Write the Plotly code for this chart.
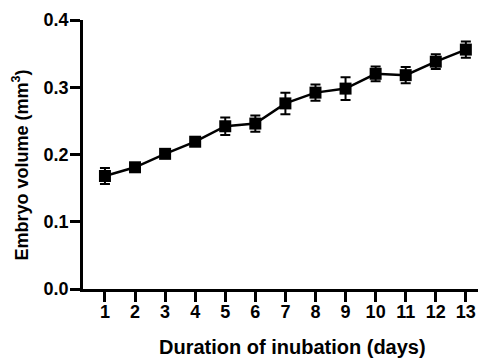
import plotly.graph_objects as go

days = [1, 2, 3, 4, 5, 6, 7, 8, 9, 10, 11, 12, 13]
volume = [0.168, 0.181, 0.201, 0.219, 0.242, 0.246, 0.276, 0.292, 0.298, 0.320, 0.318, 0.338, 0.356]
error = [0.012, 0.005, 0.005, 0.006, 0.013, 0.012, 0.016, 0.012, 0.017, 0.011, 0.012, 0.011, 0.012]
x_ticks = days
y_ticks = [0.0, 0.1, 0.2, 0.3, 0.4]
y_tick_text = ["0.0", "0.1", "0.2", "0.3", "0.4"]
x_title = "Duration of inubation (days)"
y_title = "Embryo volume (mm<sup>3</sup>)"

fig = go.Figure()
fig.add_trace(go.Scatter(
    x=days, y=volume,
    mode="lines+markers",
    line=dict(color="black", width=2.5),
    marker=dict(symbol="square", size=12, color="black"),
    error_y=dict(type="data", array=error, visible=True, color="black", thickness=2, width=5),
    showlegend=False,
))

font_family = "Liberation Sans"
# page body has an 8px default margin, so the figure is 8px smaller in each direction
fig.update_layout(
    width=478, height=352,
    margin=dict(l=75, r=0, t=12, b=71, autoexpand=False),
    plot_bgcolor="white", paper_bgcolor="white",
    font=dict(family=font_family, color="black", size=15),
)
fig.update_xaxes(
    range=[0.27, 13.67],
    tickmode="array", tickvals=x_ticks,
    ticktext=[f"<b>{d}</b>" for d in x_ticks],
    ticks="outside", ticklen=10, tickwidth=2.5, tickcolor="black",
    ticklabelstandoff=-5,
    showline=True, linecolor="black", linewidth=2.5,
    showgrid=False, zeroline=False, automargin=False,
    tickfont=dict(size=18, family=font_family, color="black"),
)
fig.update_yaxes(
    range=[0, 0.4],
    tickmode="array", tickvals=y_ticks,
    ticktext=[f"<b>{t}</b>" for t in y_tick_text],
    ticks="outside", ticklen=10, tickwidth=2.5, tickcolor="black",
    ticklabelstandoff=-2,
    showline=True, linecolor="black", linewidth=2.5,
    showgrid=False, zeroline=False, automargin=False,
    tickfont=dict(size=18, family=font_family, color="black"),
)
fig.add_annotation(
    text=f"<b>{x_title}</b>", xref="paper", yref="paper",
    x=0.519, y=-0.216, xanchor="center", yanchor="middle",
    showarrow=False, font=dict(size=20, family=font_family, color="black"),
)
fig.add_annotation(
    text=f"<b>{y_title}</b>", xref="paper", yref="paper",
    x=(13 - 75) / 403, y=0.459, xanchor="center", yanchor="middle",
    textangle=-90, showarrow=False, font=dict(size=18, family=font_family, color="black"),
)

fig.write_html("out.html")
